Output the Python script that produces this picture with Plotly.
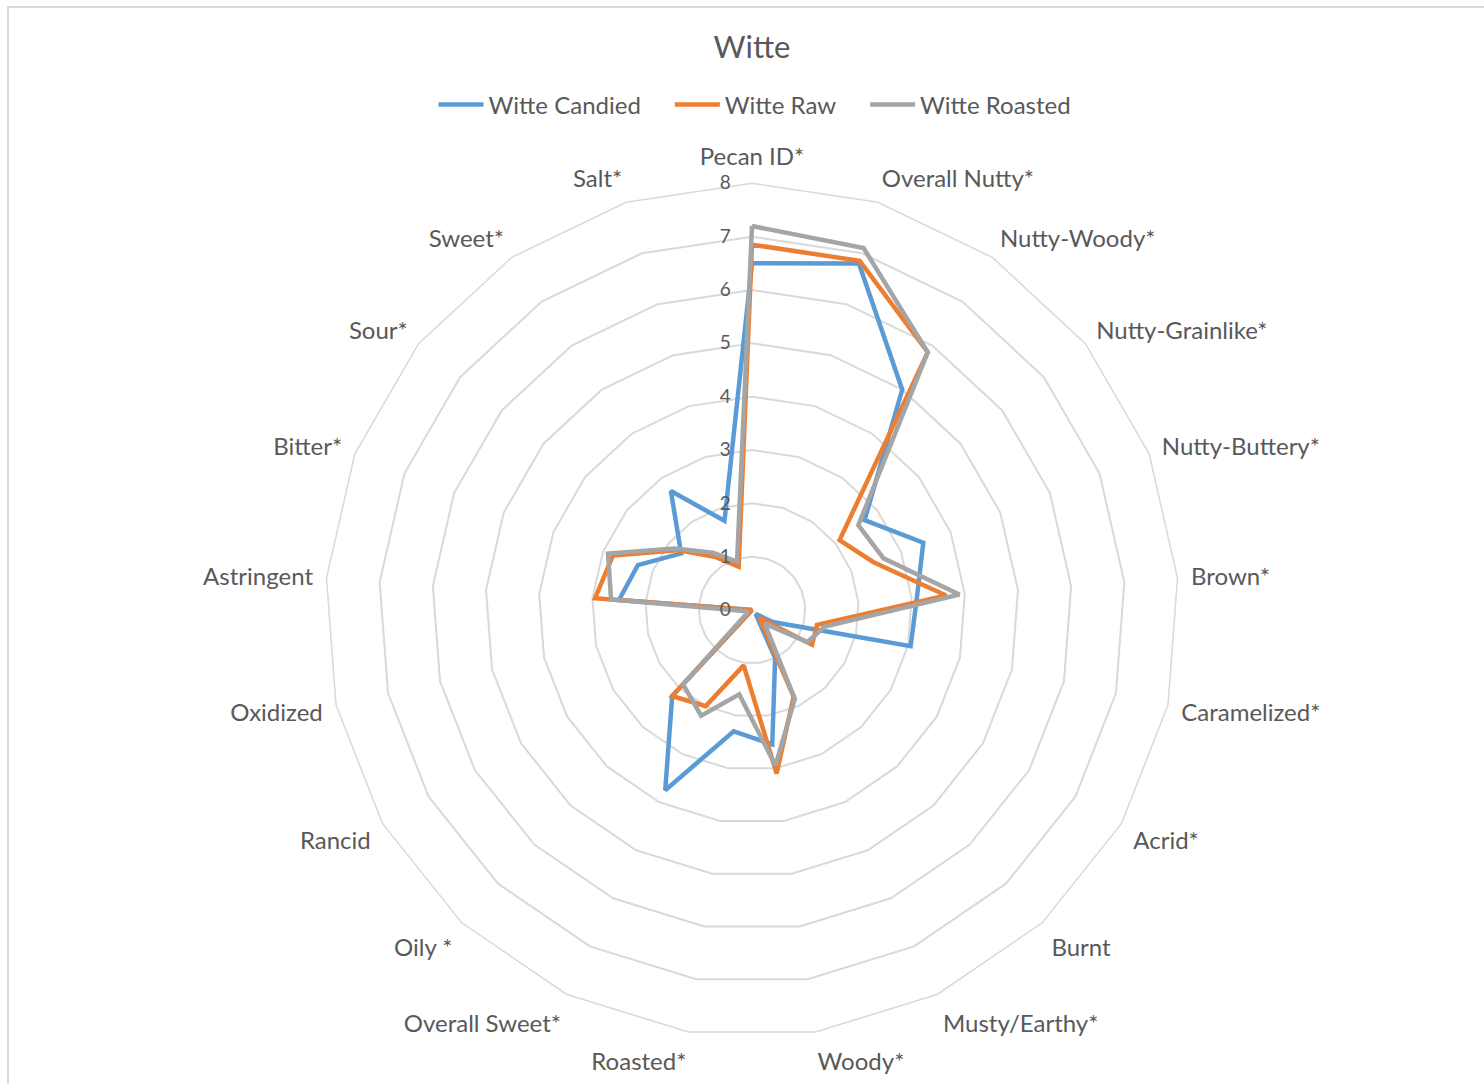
import plotly.graph_objects as go

# Sensory attributes, clockwise from the top
categories = [
    "Pecan ID*", "Overall Nutty*", "Nutty-Woody*", "Nutty-Grainlike*",
    "Nutty-Buttery*", "Brown*", "Caramelized*", "Acrid*", "Burnt",
    "Musty/Earthy*", "Woody*", "Roasted*", "Overall Sweet*", "Oily *",
    "Rancid", "Oxidized", "Astringent", "Bitter*", "Sour*", "Sweet*", "Salt*",
]

# Mean intensity scores per preparation
witte_candied = [6.5, 6.8, 5.0, 2.7, 3.45, 3.1, 3.05, 0.45, 0.1, 1.0, 2.55,
                 2.3, 3.75, 2.2, 0.0, 0.0, 2.5, 2.3, 1.7, 2.7, 1.75]
witte_raw = [6.85, 6.85, 5.85, 2.1, 2.45, 3.65, 1.25, 1.3, 0.2, 1.8, 3.1,
             1.05, 2.0, 2.2, 0.0, 0.0, 2.95, 2.8, 1.8, 1.2, 0.85]
witte_roasted = [7.2, 7.1, 5.85, 2.55, 2.65, 3.9, 1.4, 1.2, 0.35, 1.85, 2.95,
                 1.6, 2.2, 1.9, 0.1, 0.1, 2.65, 2.9, 1.85, 1.3, 0.95]

radial_ticks = [0, 1, 2, 3, 4, 5, 6, 7, 8]

series = [
    ("Witte Candied", witte_candied, "#5B9BD5"),
    ("Witte Raw", witte_raw, "#ED7D31"),
    ("Witte Roasted", witte_roasted, "#A5A5A5"),
]

TEXT = "#595959"
GRID = "#D9D9D9"
FONT = "Lato"
GAP = "\u2002\u2002"       # extra room after a legend entry

W, H = 1484, 1084
cx, cy = 752, 610          # plot centre in pixels (from top-left)
R = 426.7                  # outer radius in pixels

fig = go.Figure()
for i, (name, vals, color) in enumerate(series):
    # repeat the first point so each outline closes
    fig.add_trace(go.Scatterpolar(
        r=vals + vals[:1],
        theta=categories + categories[:1],
        mode="lines",
        name=name + (GAP if i < len(series) - 1 else ""),
        line=dict(color=color, width=4.5),
    ))

fig.update_layout(
    width=W, height=H,
    margin=dict(l=0, r=0, t=0, b=0),
    paper_bgcolor="white",
    plot_bgcolor="white",
    font=dict(family=FONT, color=TEXT),
    title=dict(text="Witte", x=cx / W, xanchor="center",
               y=1 - 47 / H, yanchor="middle",
               font=dict(family=FONT, size=31, color=TEXT)),
    legend=dict(orientation="h", x=755 / W, xanchor="center",
                y=1 - 105 / H, yanchor="middle",
                font=dict(family=FONT, size=24, color=TEXT),
                itemwidth=45, tracegroupgap=0),
    polar=dict(
        domain=dict(x=[(cx - R) / W, (cx + R) / W],
                    y=[(H - cy - R) / H, (H - cy + R) / H]),
        bgcolor="white",
        gridshape="linear",
        angularaxis=dict(
            type="category",
            categoryorder="array",
            categoryarray=categories,
            direction="clockwise",
            rotation=90,
            showgrid=False,
            showline=True,
            linecolor=GRID,
            linewidth=1.5,
            ticks="outside",
            ticklen=8,
            tickcolor="rgba(0,0,0,0)",
            tickfont=dict(family=FONT, size=24, color=TEXT),
        ),
        radialaxis=dict(
            range=[0, 8],
            tickvals=radial_ticks,
            angle=90,
            side="counterclockwise",
            tickangle=90,
            showline=False,
            ticks="outside",
            ticklen=14,
            tickcolor="rgba(0,0,0,0)",
            gridcolor=GRID,
            gridwidth=1.5,
            tickfont=dict(family=FONT, size=19, color=TEXT),
        ),
    ),
    shapes=[dict(type="rect", xref="paper", yref="paper",
                 x0=8 / W, x1=1.02, y0=-0.02, y1=1 - 7 / H,
                 line=dict(color=GRID, width=2), layer="below")],
)

fig.write_html("out.html")
